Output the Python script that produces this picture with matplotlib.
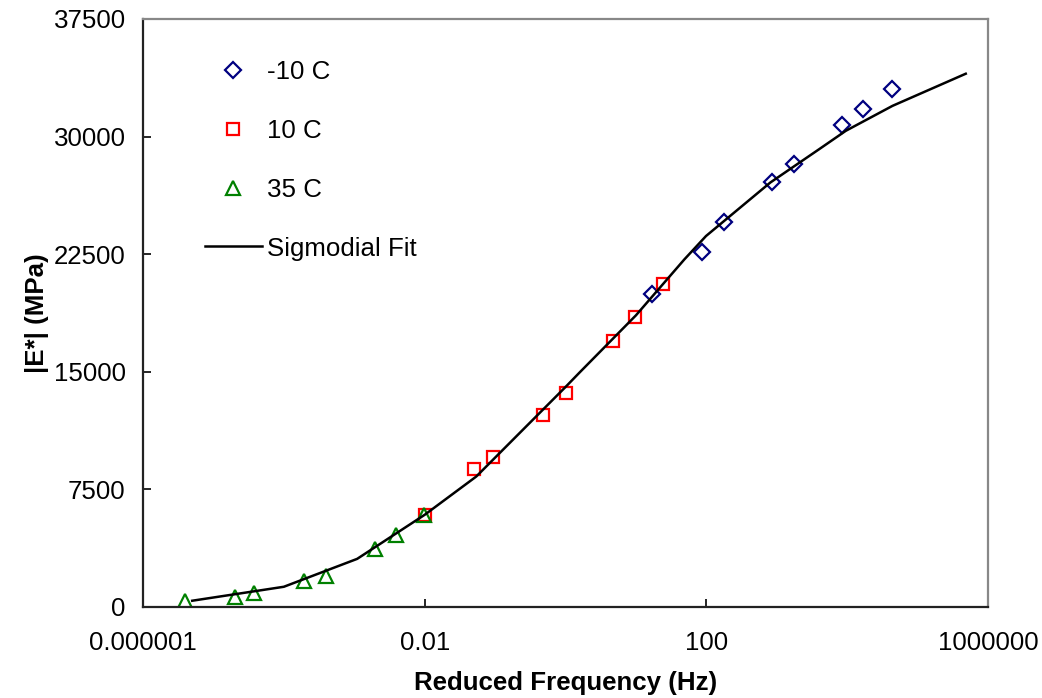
import matplotlib
matplotlib.use("Agg")
import matplotlib.pyplot as plt
from matplotlib.ticker import FixedLocator, FixedFormatter, NullLocator

plt.rcParams['font.family'] = ['Liberation Sans', 'DejaVu Sans']

# -10 C
f_m10 = [16.8, 86.9, 176, 844, 1730, 8410, 17000, 43000]
e_m10 = [19980, 22660, 24580, 27130, 28280, 30710, 31730, 33010]
# 10 C
f_10 = [0.01, 0.0495, 0.094, 0.476, 1.0, 4.74, 9.7, 24.3]
e_10 = [5880, 8800, 9560, 12250, 13630, 16970, 18510, 20570]
# 35 C
f_35 = [3.95e-6, 2.02e-5, 3.8e-5, 1.94e-4, 4.0e-4, 1.95e-3, 3.88e-3, 0.0098]
e_35 = [380, 660, 875, 1660, 2000, 3690, 4600, 5880]
# Sigmoidal fit
f_fit = [5e-6, 1e-4, 1.1e-3, 0.01, 0.054, 1.0, 1.58, 10, 48.8, 99, 810, 4010, 9570, 44000, 483000]
e_fit = [400, 1290, 3070, 5880, 8320, 14030, 14950, 18600, 22170, 23660, 27070, 29200, 30370, 31960, 34010]

xticks = [1e-6, 1e-2, 1e2, 1e6]
xticklabels = ['0.000001', '0.01', '100', '1000000']
yticks = [0, 7500, 15000, 22500, 30000, 37500]
yticklabels = ['0', '7500', '15000', '22500', '30000', '37500']

FS = 18.6

fig = plt.figure(figsize=(10.42, 6.98), dpi=100)
ax = fig.add_axes([143/1042, 1 - 607/698, (988-143)/1042, (607-19)/698])

ax.plot(f_m10, e_m10, linestyle='none', marker='D', ms=8, mfc='none', mec='#000080', mew=1.6, label='-10 C')
ax.plot(f_10, e_10, linestyle='none', marker='s', ms=9, mfc='none', mec='#FF0000', mew=1.6, label='10 C')
ax.plot(f_35, e_35, linestyle='none', marker='^', ms=10, mfc='none', mec='#008000', mew=1.6, label='35 C')
ax.plot(f_fit, e_fit, color='black', lw=1.8, label='Sigmodial Fit')

ax.set_xscale('log')
ax.set_xlim(1e-6, 1e6)
ax.set_ylim(0, 37500)
ax.xaxis.set_major_locator(FixedLocator(xticks))
ax.xaxis.set_major_formatter(FixedFormatter(xticklabels))
ax.xaxis.set_minor_locator(NullLocator())
ax.yaxis.set_major_locator(FixedLocator(yticks))
ax.yaxis.set_major_formatter(FixedFormatter(yticklabels))

ax.tick_params(axis='both', direction='in', length=6, width=1.2, labelsize=FS, colors='black')
ax.tick_params(axis='x', pad=17)
ax.tick_params(axis='y', pad=12.5)

for s in ['left', 'bottom']:
    ax.spines[s].set_color('#222222')
    ax.spines[s].set_linewidth(1.6)
for s in ['top', 'right']:
    ax.spines[s].set_color('#888888')
    ax.spines[s].set_linewidth(1.6)

ax.set_xlabel('Reduced Frequency (Hz)', fontsize=FS, fontweight='bold', labelpad=12)
ax.set_ylabel('|E*| (MPa)', fontsize=FS, fontweight='bold', labelpad=3)

leg = ax.legend(loc='upper left', bbox_to_anchor=(0.0455, 0.970), frameon=False, fontsize=FS,
                handlelength=2.2, handletextpad=0.2, labelspacing=1.35, markerscale=1.0)

fig.savefig('out.png', dpi=100)
